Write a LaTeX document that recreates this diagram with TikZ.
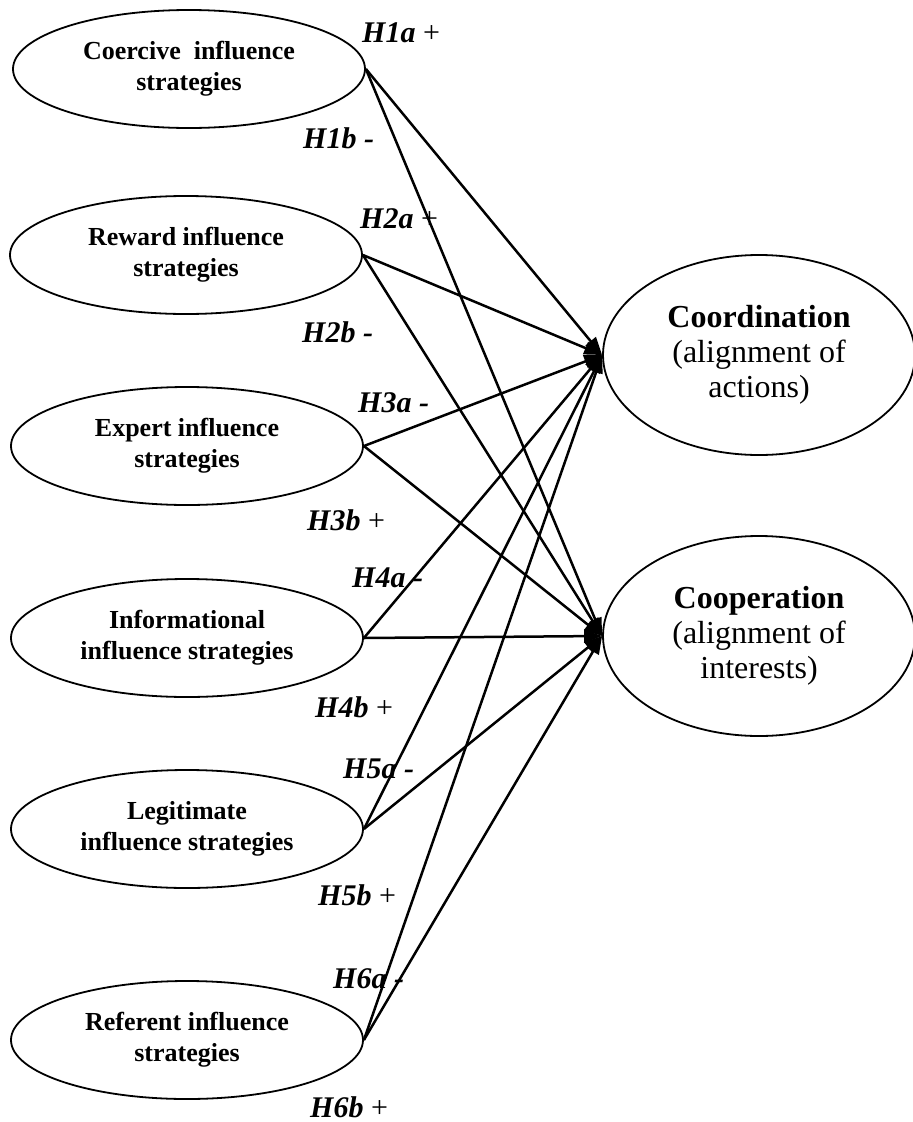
\documentclass[tikz,border=0pt]{standalone}
\usepackage{fontspec}
\setmainfont{Liberation Serif}
\usetikzlibrary{shapes.geometric,arrows.meta}
\begin{document}
\begin{tikzpicture}[x=1pt,y=-1pt,
  strategy/.style={ellipse,draw,line width=1.8pt,minimum width=352pt,minimum height=118pt,
    inner sep=0pt,align=center,font=\fontsize{26}{31}\selectfont\bfseries},
  outcome/.style={ellipse,draw,line width=1.8pt,minimum width=312pt,minimum height=200pt,
    inner sep=0pt,align=center,font=\fontsize{32}{35}\selectfont},
  hyp/.style={anchor=base west,inner sep=0pt,font=\fontsize{30}{30}\selectfont\bfseries\itshape},
  link/.style={line width=2.5pt,-{Triangle[length=18pt,width=13pt]}}]
\useasboundingbox (0,0) rectangle (913,1122);

% influence strategies
\node[strategy] (c1) at (189,69)   {Coercive\ \ influence\\strategies};
\node[strategy] (c2) at (186,255)  {Reward influence\\strategies};
\node[strategy] (c3) at (187,446)  {Expert influence\\strategies};
\node[strategy] (c4) at (187,638)  {Informational\\influence strategies};
\node[strategy] (c5) at (187,829)  {Legitimate\\influence strategies};
\node[strategy] (c6) at (187,1040) {Referent influence\\strategies};

% outcomes
\node[outcome] (co) at (759,355) {\textbf{Coordination}\\(alignment of\\actions)};
\node[outcome] (cp) at (759,636) {\textbf{Cooperation}\\(alignment of\\interests)};

% hypothesis labels
\node[hyp] (h1a) at (362,42)   {H1a {\normalfont\upshape +}};
\node[hyp] (h1b) at (303,148)  {H1b -};
\node[hyp] (h2a) at (360,228)  {H2a {\normalfont\upshape +}};
\node[hyp] (h2b) at (302,342)  {H2b -};
\node[hyp] (h3a) at (358,412)  {H3a -};
\node[hyp] (h3b) at (307,530)  {H3b {\normalfont\upshape +}};
\node[hyp] (h4a) at (352,587)  {H4a -};
\node[hyp] (h4b) at (315,717)  {H4b {\normalfont\upshape +}};
\node[hyp] (h5a) at (343,778)  {H5a -};
\node[hyp] (h5b) at (318,905)  {H5b {\normalfont\upshape +}};
\node[hyp] (h6a) at (333,988)  {H6a -};
\node[hyp] (h6b) at (310,1117) {H6b {\normalfont\upshape +}};

% paths
\foreach \s in {c1,c2,c3,c4,c5,c6}{
  \draw[link] (\s.east) -- (co.west);
  \draw[link] (\s.east) -- (cp.west);
}
\end{tikzpicture}
\end{document}
